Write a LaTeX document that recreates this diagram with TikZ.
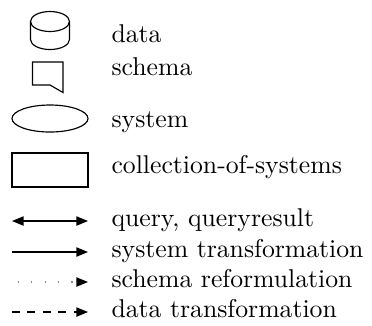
\documentclass[tikz,border=0pt]{standalone}
\usepackage{tikz}
\usetikzlibrary{arrows.meta,positioning}
\tikzset{
  lbl/.style={anchor=base west, inner sep=0pt},
  icon/.style={draw, line width=0.45pt},
  tip/.style={-{Triangle[length=4.5pt, width=3.6pt]}},
  dtip/.style={{Triangle[length=4.5pt, width=3.6pt]}-{Triangle[length=4.5pt, width=3.6pt]}},
  loose/.style={draw=black!45, dash pattern=on 0.45pt off 4.75pt, dash phase=2.9pt,
    -{Triangle[length=4.5pt, width=3.6pt, color=black]}}
}
\begin{document}
\begin{tikzpicture}[x=0.389pt, y=-0.389pt, line width=0.45pt]
\useasboundingbox (0,0) rectangle (372,325);
\draw[icon] (50,21.5) ellipse [x radius=19.5, y radius=10];
\draw[icon] (30.5,21.5) -- (30.5,39.5) arc[start angle=180, end angle=0, x radius=19.5, y radius=10] -- (69.5,21.5);
\draw[icon] (32.5,62) -- (63,62) -- (63,92.5) -- (50,85) -- (32.5,85) -- cycle;
\draw[icon] (50,118.5) ellipse [x radius=38, y radius=13.5];
\draw[icon] (12,153) rectangle (88,187);
\foreach \n/\y in {q/221,t/252,r/282,d/312}{
  \coordinate (\n a) at (12,\y);
  \coordinate (\n b) at (88,\y);
}
\draw[dtip] (qa) -- (qb);
\draw[tip] (ta) -- (tb);
\draw[loose] (ra) -- (rb);
\draw[tip, dashed] (da) -- (db);
\node[lbl] (ldata) at (111,42) {data};
\node[lbl] (lschema) at (111,75.5) {schema};
\node[lbl] (lsys) at (111,127) {system};
\node[lbl] (lcoll) at (111,173.5) {collection-of-systems};
\node[lbl] (lquery) at (111,226.5) {query, queryresult};
\node[lbl] (ltrans) at (111,257.5) {system transformation};
\node[lbl] (lreform) at (111,287.5) {schema reformulation};
\node[lbl] (ldtrans) at (111,317.5) {data transformation};
\end{tikzpicture}
\end{document}
